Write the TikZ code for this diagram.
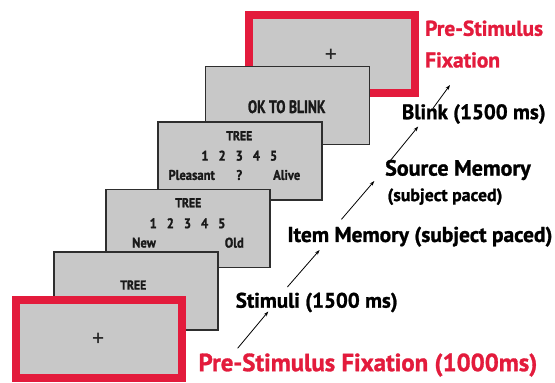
\documentclass[tikz,border=0pt]{standalone}
\usepackage{fontspec}
\setmainfont{PT Sans}
\newfontfamily\labfont{PT Sans Bold}[FakeBold=1.2]
\newfontfamily\capsfont{PT Sans Bold}[FakeStretch=0.76, FakeBold=1.2]
\newfontfamily\scrfont{PT Sans Bold}[FakeStretch=0.9, FakeBold=1.2]
\usetikzlibrary{arrows.meta}
\definecolor{scr}{HTML}{C8C8C8}
\definecolor{redc}{HTML}{E31B3C}
\definecolor{edgec}{HTML}{2E2E2E}
\begin{document}
\begin{tikzpicture}[x=1pt,y=-1pt,
  screen/.style={draw=edgec, line width=1.6pt, fill=scr, minimum width=164pt, minimum height=78pt, inner sep=0pt},
  redscreen/.style={draw=redc, line width=8pt, fill=scr, minimum width=166pt, minimum height=78pt, inner sep=0pt},
  scrcaps/.style={font=\capsfont\fontsize{18}{20}\selectfont, text=black!90, inner sep=0pt},
  scrtext/.style={font=\scrfont\fontsize{14}{16}\selectfont, text=black!90, inner sep=0pt},
  plus/.style={font=\fontsize{24}{24}\selectfont, text=black!85, inner sep=0pt},
  lab/.style={font=\labfont\fontsize{21}{23}\selectfont, anchor=west, inner sep=0pt},
  sublab/.style={font=\labfont\fontsize{17.8}{19}\selectfont, anchor=west, inner sep=0pt},
  redlab/.style={font=\labfont\fontsize{21.4}{23}\selectfont, text=redc, anchor=west, inner sep=0pt},
  arr/.style={line width=0.8pt, -{Stealth[length=5pt,width=3.5pt]}}
]
\fill[white] (0,0) rectangle (555,383);
\useasboundingbox (0,0) rectangle (555,383);

% screens, back to front
\node[redscreen] (s0) at (332,54.2) {};
\node[plus] (p0) at (331,56) {+};

\node[screen] (s1) at (287.4,105.4) {};
\node[scrcaps] (t1) at (286.7,106.7) {OK TO BLINK};

\node[screen] (s2) at (239.8,161.2) {};
\node[scrtext, font=\scrfont\fontsize{13}{15}\selectfont] (t2a) at (239.3,135.7) {TREE};
\node[scrtext] (t2b) at (239.3,155.7) {1\hspace{10pt}2\hspace{10pt}3\hspace{10pt}4\hspace{10pt}5};
\node[scrtext] (t2c) at (191.7,175) {Pleasant};
\node[scrtext] (t2d) at (239.3,175) {?};
\node[scrtext] (t2e) at (286.7,175) {Alive};

\node[screen] (s3) at (188.2,228.3) {};
\node[scrtext, font=\scrfont\fontsize{13}{15}\selectfont] (t3a) at (188.3,202.7) {TREE};
\node[scrtext] (t3b) at (187.5,223.3) {1\hspace{10pt}2\hspace{10pt}3\hspace{10pt}4\hspace{10pt}5};
\node[scrtext] (t3c) at (144,242.7) {New};
\node[scrtext] (t3d) at (234.3,242.7) {Old};

\node[screen] (s4) at (136.2,290.9) {};
\node[scrtext, font=\scrfont\fontsize{13}{15}\selectfont] (t4a) at (133.3,285) {TREE};

\node[redscreen] (s5) at (99,339.2) {};
\node[plus] (p5) at (98.3,340) {+};

% labels
\node[redlab] (l0a) at (425,28.3) {Pre-Stimulus};
\node[redlab] (l0b) at (425,60) {Fixation};
\node[lab] (l1) at (401.7,114) {Blink (1500 ms)};
\node[lab, font=\labfont\fontsize{22}{24}\selectfont] (l2) at (385,170) {Source Memory};
\node[sublab] (l2b) at (387.3,196.7) {(subject paced)};
\node[lab, font=\labfont\fontsize{21.4}{23}\selectfont] (l3) at (287.3,236.7) {Item Memory (subject paced)};
\node[lab] (l4) at (235.6,302.5) {Stimuli (1500 ms)};
\node[redlab, font=\labfont\fontsize{24.8}{26}\selectfont] (l5) at (198.4,365) {Pre-Stimulus Fixation (1000ms)};

% arrows
\coordinate (a1s) at (237.6,348.3); \coordinate (a1e) at (268.3,311.5);
\coordinate (a2s) at (287.4,287);   \coordinate (a2e) at (319.6,250);
\coordinate (a3s) at (341.5,219.3); \coordinate (a3e) at (374.3,181);
\coordinate (a4s) at (390.8,160);   \coordinate (a4e) at (418.2,126.5);
\coordinate (a5s) at (433.2,108);   \coordinate (a5e) at (450,85);
\draw[arr] (a1s) -- (a1e);
\draw[arr] (a2s) -- (a2e);
\draw[arr] (a3s) -- (a3e);
\draw[arr] (a4s) -- (a4e);
\draw[arr] (a5s) -- (a5e);
\end{tikzpicture}
\end{document}
